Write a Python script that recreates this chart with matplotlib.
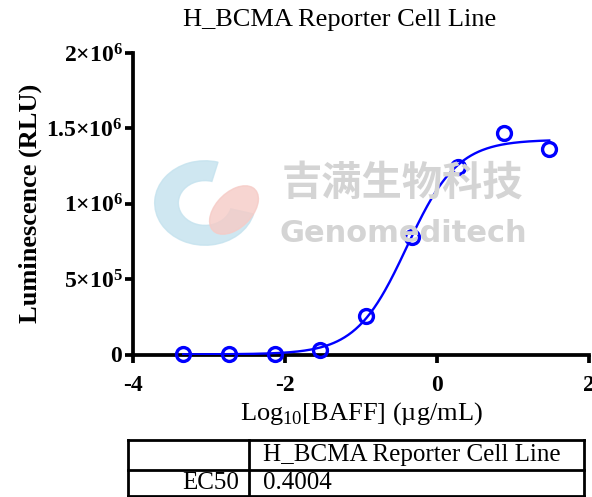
import matplotlib.pyplot as plt
from matplotlib.patches import Wedge, Ellipse
from matplotlib.lines import Line2D
import numpy as np

plt.rcParams['font.family'] = ['Liberation Serif', 'DejaVu Serif']
plt.rcParams['mathtext.fontset'] = 'custom'
plt.rcParams['mathtext.rm'] = 'Liberation Serif'
plt.rcParams['mathtext.bf'] = 'Liberation Serif:bold'

# measured points: log10 concentration (ug/mL) vs luminescence
log_conc = [-3.339, -2.737, -2.135, -1.533, -0.931, -0.329, 0.273, 0.875, 1.477]
rlu = [2000, 2000, 6000, 32000, 253000, 782000, 1245000, 1472000, 1365000]

# 4PL fit parameters
bottom = 1000
top = 1425000
ec50 = 0.4004
hill = 1.3

yticks = [0, 5e5, 1e6, 1.5e6, 2e6]
ytick_labels = [r'$\mathbf{0}$', r'$\mathbf{5{\times}10^{5}}$', r'$\mathbf{1{\times}10^{6}}$',
                r'$\mathbf{1.5{\times}10^{6}}$', r'$\mathbf{2{\times}10^{6}}$']
xticks = [-4, -2, 0, 2]

fig = plt.figure(figsize=(5.92, 4.97), dpi=100)
ax = fig.add_axes([133/592, 1-354.5/497, (589-133)/592, (354.5-53)/497])
wm = fig.transFigure

# watermark
fig.text(402/592, 1-183/497, '吉满生物科技', family=['Noto Sans CJK SC'], fontsize=29,
         fontweight='bold', color='#d4d4d4', ha='center', va='center', zorder=0)
fig.text(403/592, 1-233/497, 'Genomeditech', family=['DejaVu Sans'], fontsize=22,
         fontweight='bold', color='#d4d4d4', ha='center', va='center', zorder=0)
fig.patches.append(Wedge((205/592, 1-203/497), 0.085, 75, 345, width=0.04,
                         transform=wm, color='#c4e2ee', alpha=0.8, zorder=0))
fig.patches.append(Ellipse((234/592, 1-210/497), 0.065, 0.11, angle=-35,
                           transform=wm, color='#f6cbc6', alpha=0.8, zorder=0))

# fitted curve
xs = np.linspace(log_conc[0], log_conc[-1], 400)
ys = bottom + (top - bottom) / (1 + 10 ** ((np.log10(ec50) - xs) * hill))
ax.plot(xs, ys, color='#0000ff', lw=1.7, zorder=3)
ax.plot(log_conc, rlu, 'o', mfc='none', mec='#0000ff', ms=10, mew=2.4, zorder=4,
        clip_on=False)

ax.set_xlim(-4, 2)
ax.set_ylim(0, 2e6)
ax.set_xticks(xticks)
ax.set_xticklabels([str(t) for t in xticks], fontweight='bold', fontsize=17)
ax.set_yticks(yticks)
ax.set_yticklabels(ytick_labels, fontsize=17)
ax.patch.set_alpha(0)
for s in ['top', 'right']:
    ax.spines[s].set_visible(False)
for s in ['left', 'bottom']:
    ax.spines[s].set_linewidth(2.7)
ax.tick_params(width=2.7, length=5.5, direction='out', pad=2)
ax.tick_params(axis='x', pad=9)
ax.set_xlabel(r'Log$_{\mathrm{10}}$[BAFF] (µg/mL)', fontsize=19, labelpad=3)
ax.set_ylabel('Luminescence (RLU)', fontsize=19, fontweight='bold', labelpad=3)
fig.text(340/592, 1-20/497, 'H_BCMA Reporter Cell Line', fontsize=19,
         ha='center', va='center')

# EC50 table
tl, tm, tr = 128/592, 249/592, 584/592
ty = [1-440/497, 1-470/497, 1-496/497]
for y in ty:
    fig.add_artist(Line2D([tl, tr], [y, y], color='black', lw=2, transform=wm))
for x in [tl, tm, tr]:
    fig.add_artist(Line2D([x, x], [ty[0], ty[2]], color='black', lw=2, transform=wm))
fig.text(263/592, 1-455/497, 'H_BCMA Reporter Cell Line', fontsize=18, ha='left', va='center')
fig.text(239/592, 1-483/497, 'EC50', fontsize=18, ha='right', va='center')
fig.text(263/592, 1-483/497, '%.4f' % ec50, fontsize=18, ha='left', va='center')

fig.savefig('out.png', dpi=100)
